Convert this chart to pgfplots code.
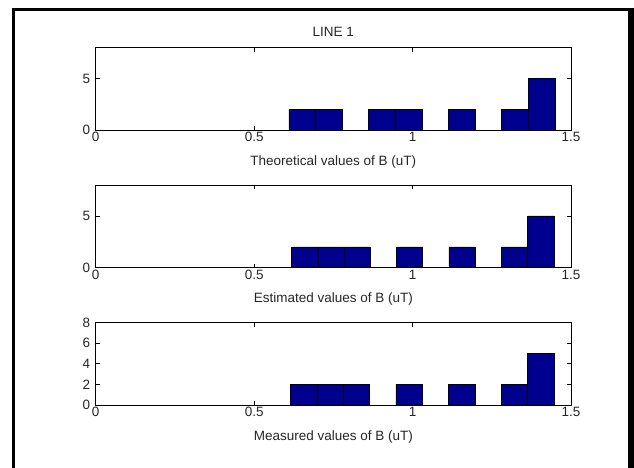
\documentclass[border=0pt]{standalone}
\usepackage{pgfplots}
\pgfplotsset{compat=1.18}
\usepackage{fontspec}
\setmainfont{Liberation Sans}
\definecolor{barblue}{RGB}{0,0,143}
\pgfplotsset{
  hstyle/.style={
    scale only axis, width=475.3pt, height=82.5pt,
    anchor=south west,
    xmin=0, xmax=1.5, ymin=0, ymax=8,
    xtick={0,0.5,1,1.5},
    xticklabels={0,0.5,1,1.5},
    tick align=inside, major tick length=4pt,
    axis line style={black, line width=0.7pt},
    tick style={black, line width=0.6pt},
    font=\fontsize{13.5}{16}\selectfont,
    ticklabel style={font=\fontsize{13.5}{16}\selectfont, text=black!85},
    /pgf/number format/assume math mode=true,
    xticklabel style={yshift=1pt},
    yticklabel style={xshift=-2pt},
    xlabel style={at={(axis description cs:0.5,0)}, anchor=center, yshift=-32pt, text=black!85},
    title style={at={(axis description cs:0.5,1)}, anchor=center, yshift=10pt, text=black!85},
  },
  hbars/.style={ybar interval, fill=barblue, draw=black, line width=0.5pt},
}
\begin{document}
\begin{tikzpicture}
\useasboundingbox (0pt,0pt) rectangle (634pt,-468pt);
\draw[line width=3pt] (12pt,-9.5pt) -- (634pt,-9.5pt);
\draw[line width=3pt] (13.5pt,-8pt) -- (13.5pt,-468pt);
\draw[line width=6pt] (631pt,-8pt) -- (631pt,-468pt);

\begin{axis}[hstyle, at={(95.7pt,-130pt)}, ytick={0,5},
  title={LINE 1}, xlabel={Theoretical values of B (uT)}]
\addplot[hbars] coordinates {(0.610,2) (0.6939,2) (0.7778,0) (0.8617,2) (0.9456,2) (1.0295,0) (1.1134,2) (1.1973,0) (1.2812,2) (1.3651,5) (1.449,5)};
\end{axis}

\begin{axis}[hstyle, at={(95.7pt,-267.5pt)}, ytick={0,5},
  xlabel={Estimated values of B (uT)}]
\addplot[hbars] coordinates {(0.618,2) (0.7008,2) (0.7836,2) (0.8664,0) (0.9492,2) (1.0320,0) (1.1148,2) (1.1976,0) (1.2804,2) (1.3632,5) (1.446,5)};
\end{axis}

\begin{axis}[hstyle, at={(95.7pt,-405pt)}, ytick={0,2,4,6,8},
  xlabel={Measured values of B (uT)}]
\addplot[hbars] coordinates {(0.615,2) (0.6981,2) (0.7812,2) (0.8643,0) (0.9474,2) (1.0305,0) (1.1136,2) (1.1967,0) (1.2798,2) (1.3629,5) (1.446,5)};
\end{axis}
\end{tikzpicture}
\end{document}
